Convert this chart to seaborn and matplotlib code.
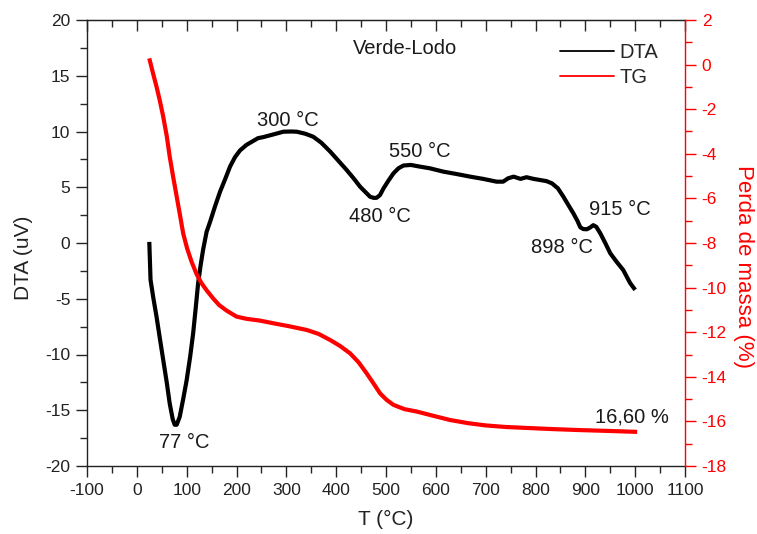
import numpy as np
import pandas as pd
import matplotlib
matplotlib.use("Agg")
import matplotlib.pyplot as plt
from matplotlib.ticker import MultipleLocator
from matplotlib.lines import Line2D
import seaborn as sns

# ---- data ----
dta_T = [25, 27.5, 33, 39.5, 46, 53, 60, 66, 72, 76, 80, 86, 93, 100, 107, 113, 118,
         123, 128, 133, 140, 147, 157, 167, 177, 187, 197, 207, 220, 243, 254, 275,
         294, 310, 321, 338, 354, 370, 388, 404, 421, 435, 448, 458, 468, 475, 481,
         488, 495, 505, 515, 525, 535, 550, 568, 588, 615, 640, 669, 695, 722, 735,
         745, 756, 770, 782, 796, 809, 822, 833, 845, 856, 866, 876, 884, 890, 896,
         903, 910, 916, 922, 930, 940, 950, 963, 976, 984, 990, 1000]
dta_val = [0.1, -3.3, -4.9, -6.6, -8.5, -10.5, -12.5, -14.4, -15.8, -16.3, -16.3, -15.6,
           -14.0, -12.3, -10.2, -8.1, -5.9, -3.6, -2.0, -0.6, 1.0, 1.9, 3.3, 4.6, 5.7,
           6.85, 7.7, 8.3, 8.8, 9.4, 9.5, 9.75, 9.98, 10.0, 9.98, 9.8, 9.53, 9.0, 8.2,
           7.4, 6.55, 5.8, 5.05, 4.6, 4.15, 4.05, 4.05, 4.3, 4.9, 5.6, 6.25, 6.7, 6.95,
           7.0, 6.85, 6.7, 6.4, 6.2, 5.95, 5.75, 5.5, 5.5, 5.8, 5.95, 5.75, 5.9, 5.75,
           5.65, 5.55, 5.35, 4.9, 4.15, 3.4, 2.66, 2.0, 1.4, 1.25, 1.23, 1.4, 1.6, 1.45,
           0.87, 0.0, -0.92, -1.7, -2.42, -3.1, -3.6, -4.2]

tg_T = [25, 32, 39.5, 46, 53, 60, 66, 73, 80, 87, 93, 101, 110, 120, 130, 141, 153,
        165, 180, 200, 220, 247, 274, 305, 341, 365, 388, 408, 428, 445, 461, 475,
        488, 501, 515, 537, 562, 595, 629, 665, 700, 740, 789, 840, 890, 950, 1004]
tg_val = [0.28, -0.35, -0.99, -1.6, -2.34, -3.2, -4.13, -5.05, -5.92, -6.8, -7.57,
          -8.25, -8.85, -9.4, -9.81, -10.15, -10.48, -10.78, -11.03, -11.3, -11.4,
          -11.48, -11.6, -11.73, -11.9, -12.08, -12.35, -12.62, -12.95, -13.35, -13.84,
          -14.3, -14.74, -15.03, -15.26, -15.45, -15.56, -15.75, -15.94, -16.08, -16.18,
          -16.25, -16.3, -16.35, -16.39, -16.43, -16.47]

annotations = [("Verde-Lodo", 538, 17.4), ("300 °C", 303, 11.0), ("550 °C", 568, 8.2),
               ("480 °C", 488, 2.4), ("915 °C", 970, 3.0), ("898 °C", 853, -0.4),
               ("77 °C", 96, -17.85), ("16,60 %", 994, -15.6)]

# ---- style ----
sns.set_style("ticks")
plt.rcParams['font.family'] = ['Liberation Sans', 'DejaVu Sans']
plt.rcParams['axes.unicode_minus'] = False

fig = plt.figure(figsize=(7.57, 5.34), dpi=100)
ax = fig.add_axes([87/757, 1-466/534, (685-87)/757, (466-20)/534])

df_dta = pd.DataFrame({"T": dta_T, "DTA": dta_val})
df_tg = pd.DataFrame({"T": tg_T, "TG": tg_val})

sns.lineplot(data=df_dta, x="T", y="DTA", ax=ax, color="black", lw=3.0, sort=False,
             estimator=None, solid_joinstyle='round', solid_capstyle='butt')
ax.set_xlim(-100, 1100)
ax.set_ylim(-20, 20)

ax2 = ax.twinx()
sns.lineplot(data=df_tg, x="T", y="TG", ax=ax2, color="#ff0000", lw=3.0, sort=False,
             estimator=None, solid_joinstyle='round', solid_capstyle='butt')
ax2.set_ylim(-18, 2)
ax2.set_xlim(-100, 1100)

# ticks
ax.xaxis.set_major_locator(MultipleLocator(100))
ax.xaxis.set_minor_locator(MultipleLocator(50))
ax.yaxis.set_major_locator(MultipleLocator(5))
ax.yaxis.set_minor_locator(MultipleLocator(2.5))
ax.tick_params(axis='both', which='major', direction='out', length=8, width=1,
               labelsize=12.5, colors='#222222', pad=4)
ax.tick_params(axis='both', which='minor', direction='out', length=5, width=1)
ax.tick_params(axis='x', top=False)

ax2.yaxis.set_major_locator(MultipleLocator(2))
ax2.yaxis.set_minor_locator(MultipleLocator(1))
ax2.tick_params(axis='y', which='major', direction='out', length=8, width=1,
                colors='#ff0000', labelsize=12.5, pad=4)
ax2.tick_params(axis='y', which='minor', direction='out', length=5, width=1,
                colors='#ff0000')

# top inward ticks
axt = ax.secondary_xaxis('top')
axt.xaxis.set_major_locator(MultipleLocator(100))
axt.xaxis.set_minor_locator(MultipleLocator(50))
axt.tick_params(which='major', direction='in', length=8, width=1, labeltop=False)
axt.tick_params(which='minor', direction='in', length=5, width=1)

for s in ['left', 'bottom', 'top']:
    ax.spines[s].set_visible(True)
    ax.spines[s].set_color('#222222')
    ax.spines[s].set_linewidth(1)
ax.spines['right'].set_visible(False)
ax2.spines['right'].set_visible(True)
ax2.spines['right'].set_color('#ff0000')
ax2.spines['right'].set_linewidth(1)
for s in ['left', 'bottom', 'top']:
    ax2.spines[s].set_visible(False)
axt.spines['top'].set_color('#222222')

ax.set_xlabel("T (°C)", fontsize=15, color='#222222', va='center', ha='center')
ax.xaxis.set_label_coords(0.5, -0.121)
ax.set_ylabel("DTA (uV)", fontsize=15, color='#222222', va='center', ha='center')
ax.yaxis.set_label_coords(-0.107, 0.4675)
ax2.set_ylabel("Perda de massa (%)", fontsize=16, color='#ff0000', rotation=270,
               va='center', ha='center')
ax2.yaxis.set_label_coords(1.097, 0.448)

for txt, x, y in annotations:
    ax.text(x, y, txt, fontsize=14.5, ha='center', va='center', color='#1a1a1a')

handles = [Line2D([], [], color='black', lw=1.3), Line2D([], [], color='#ff0000', lw=1.3)]
leg = ax.legend(handles, ["DTA", "TG"], loc='upper right', frameon=False, fontsize=14.5,
                handlelength=2.7, handletextpad=0.25, labelspacing=0.3,
                bbox_to_anchor=(0.975, 0.975), borderaxespad=0.2)

fig.savefig("out.png", dpi=100)
